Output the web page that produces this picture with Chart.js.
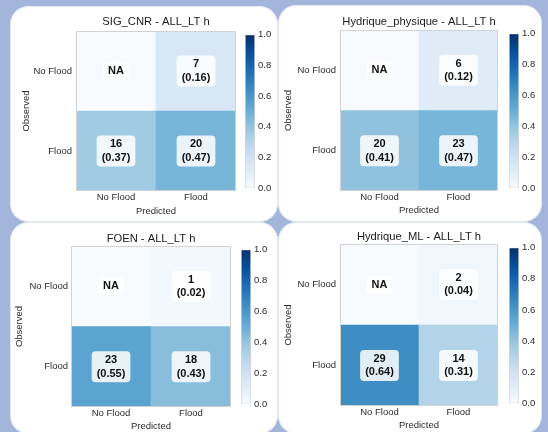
<!DOCTYPE html>
<html lang="en">
<head>
<meta charset="utf-8">
<title>Confusion matrices - ALL_LT h</title>
<script src="https://cdn.jsdelivr.net/npm/chart.js"></script>
<style>
  body {
    margin: 0;
    width: 548px;
    height: 432px;
    overflow: hidden;
    position: relative;
    background: #a3b5da;
    font-family: 'Liberation Sans', Arial, sans-serif;
  }
  .panel {
    position: absolute;
    background: #fff;
    border-radius: 18px;
    border: 1px solid #e3e9f3;
    box-sizing: border-box;
  }
  canvas { position: absolute; }
</style>
</head>
<body>
<div class="panel" style="left:10px;top:6px;width:268px;height:216px"></div>
<div class="panel" style="left:278px;top:5px;width:264px;height:217px"></div>
<div class="panel" style="left:10px;top:222px;width:268px;height:212px"></div>
<div class="panel" style="left:278px;top:222px;width:264px;height:212px"></div>

<script>
const categories = ['No Flood', 'Flood'];
const panelTitles = ['SIG_CNR - ALL_LT h', 'Hydrique_physique - ALL_LT h', 'FOEN - ALL_LT h', 'Hydrique_ML - ALL_LT h'];

// rows = observed [No Flood, Flood], columns = predicted [No Flood, Flood]; null = NA
const countsSigCnr = [[null, 7], [16, 20]];
const sharesSigCnr = [[null, 0.16], [0.37, 0.47]];
const countsHydPhys = [[null, 6], [20, 23]];
const sharesHydPhys = [[null, 0.12], [0.41, 0.47]];
const countsFoen = [[null, 1], [23, 18]];
const sharesFoen = [[null, 0.02], [0.55, 0.43]];
const countsHydMl = [[null, 2], [29, 14]];
const sharesHydMl = [[null, 0.04], [0.64, 0.31]];

const colorbarTicks = [0, 0.2, 0.4, 0.6, 0.8, 1.0];

// matplotlib "Blues"
const bluesStops = ['#f7fbff', '#deebf7', '#c6dbef', '#9ecae1', '#6baed6', '#4292c6', '#2171b5', '#08519c', '#08306b'];

function hexRgb(h) {
  return [1, 3, 5].map(i => parseInt(h.substr(i, 2), 16));
}

function blues(v) {
  const t = Math.max(0, Math.min(1, v)) * (bluesStops.length - 1);
  const i = Math.min(Math.floor(t), bluesStops.length - 2);
  const f = t - i;
  const a = hexRgb(bluesStops[i]), b = hexRgb(bluesStops[i + 1]);
  const c = a.map((x, k) => Math.round(x + (b[k] - x) * f));
  return `rgb(${c[0]},${c[1]},${c[2]})`;
}

Chart.defaults.font.family = "'Liberation Sans', Arial, sans-serif";
Chart.defaults.color = '#2b2b2b';

function makeCanvas(left, top, w, h) {
  const cv = document.createElement('canvas');
  cv.width = w;
  cv.height = h;
  cv.style.left = left + 'px';
  cv.style.top = top + 'px';
  cv.style.width = w + 'px';
  cv.style.height = h + 'px';
  document.body.appendChild(cv);
  return cv;
}

// frame round the matrix + count / share boxes in each cell
const cellLabels = {
  id: 'cellLabels',
  afterDatasetsDraw(chart) {
    const {ctx, chartArea: a} = chart;
    ctx.save();
    ctx.strokeStyle = '#d2d2d2';
    ctx.lineWidth = 1;
    ctx.strokeRect(a.left + 0.5, a.top + 0.5, a.width - 1, a.height - 1);
    ctx.font = "bold 11px 'Liberation Sans', Arial, sans-serif";
    ctx.textAlign = 'center';
    ctx.textBaseline = 'middle';
    chart.data.datasets.forEach((ds, i) => {
      chart.getDatasetMeta(i).data.forEach((bar, j) => {
        const {x, y, base} = bar.getProps(['x', 'y', 'base'], true);
        const cy = (y + base) / 2;
        const n = ds.counts[j];
        const lines = n == null ? ['NA'] : [String(n), '(' + ds.shares[j].toFixed(2) + ')'];
        const w = Math.max(...lines.map(t => ctx.measureText(t).width)) + 10;
        const h = lines.length * 13 + 5;
        ctx.fillStyle = 'rgba(255,255,255,0.85)';
        ctx.beginPath();
        ctx.roundRect(x - w / 2, cy - h / 2, w, h, 4);
        ctx.fill();
        ctx.fillStyle = '#111';
        lines.forEach((t, k) => ctx.fillText(t, x, cy + (k - (lines.length - 1) / 2) * 13.5));
      });
    });
    ctx.restore();
  }
};

function heatmap(p, title, counts, shares) {
  const cv = makeCanvas(p.left, p.top, p.w, p.h);
  // bottom row (observed Flood) first so it stacks at the bottom
  const datasets = [1, 0].map(r => ({
    label: categories[r],
    data: categories.map(() => 1),
    counts: counts[r],
    shares: shares[r],
    backgroundColor: shares[r].map(v => blues(v == null ? 0 : v)),
    borderWidth: 0,
    barPercentage: 1,
    categoryPercentage: 1
  }));
  new Chart(cv, {
    type: 'bar',
    data: { labels: categories, datasets },
    options: {
      responsive: false,
      animation: false,
      layout: { padding: { right: p.padR } },
      plugins: {
        legend: { display: false },
        tooltip: { enabled: false },
        title: {
          display: true,
          text: title,
          fullSize: false,
          color: '#1c1c1c',
          font: { size: 11.2, weight: 'normal' },
          padding: { top: p.tTop, bottom: p.tBot }
        }
      },
      scales: {
        x: {
          stacked: true,
          grid: { display: false, drawTicks: false },
          border: { display: false },
          ticks: { padding: 1, font: { size: 9.5 } },
          title: { display: true, text: 'Predicted', font: { size: 9.5 }, padding: { top: 0, bottom: p.xTitle } },
          afterFit: s => { s.height = p.xH; }
        },
        y: {
          stacked: true,
          min: 0,
          max: 2,
          grid: { display: false, drawTicks: false },
          border: { display: false },
          afterBuildTicks: s => { s.ticks = [{ value: 0.5 }, { value: 1.5 }]; },
          ticks: {
            padding: p.yTick,
            font: { size: 9.5 },
            callback: v => (v > 1 ? categories[0] : categories[1])
          },
          title: { display: true, text: 'Observed', font: { size: 9.5 }, padding: { top: p.yTitle, bottom: 0 } },
          afterFit: s => { s.width = p.yW; }
        }
      }
    },
    plugins: [cellLabels]
  });
}

function barGradient(chart) {
  const a = chart.chartArea;
  if (!a) return bluesStops[4];
  const g = chart.ctx.createLinearGradient(0, a.bottom, 0, a.top);
  bluesStops.forEach((c, i) => g.addColorStop(i / (bluesStops.length - 1), c));
  return g;
}

function colorbar(c) {
  const cv = makeCanvas(c.left, c.top, 34, c.h);
  new Chart(cv, {
    type: 'bar',
    data: {
      labels: [''],
      datasets: [{
        data: [[0, 1]],
        backgroundColor: ctx => barGradient(ctx.chart),
        borderColor: '#d6d6d6',
        borderWidth: 1,
        borderSkipped: false,
        barPercentage: 1,
        categoryPercentage: 1
      }]
    },
    options: {
      responsive: false,
      animation: false,
      layout: { padding: { top: 6, bottom: 6 } },
      plugins: { legend: { display: false }, tooltip: { enabled: false } },
      scales: {
        x: { display: false },
        y: {
          position: 'right',
          min: 0,
          max: 1,
          grid: { display: false, drawTicks: false },
          border: { display: false },
          afterBuildTicks: s => { s.ticks = colorbarTicks.map(v => ({ value: v })); },
          ticks: { padding: 3, font: { size: 9.5 }, callback: v => v.toFixed(1) },
          afterFit: s => { s.width = 24; }
        }
      }
    }
  });
}

heatmap({ left: 10, top: 6, w: 230, h: 216, padR: 4, tTop: 9, tBot: 2.6, yW: 66, yTick: 4, yTitle: 11, xH: 31, xTitle: 5 },
  panelTitles[0], countsSigCnr, sharesSigCnr);
colorbar({ left: 245, top: 26, h: 171 });

heatmap({ left: 278, top: 6, w: 224, h: 216, padR: 4, tTop: 9, tBot: 1.6, yW: 62, yTick: 4, yTitle: 5, xH: 31, xTitle: 6 },
  panelTitles[1], countsHydPhys, sharesHydPhys);
colorbar({ left: 509, top: 25, h: 172 });

heatmap({ left: 10, top: 222, w: 226, h: 210, padR: 5, tTop: 10, tBot: 0.6, yW: 61, yTick: 3, yTitle: 4, xH: 25, xTitle: 0 },
  panelTitles[2], countsFoen, sharesFoen);
colorbar({ left: 241, top: 241, h: 172 });

heatmap({ left: 278, top: 222, w: 224, h: 210, padR: 4, tTop: 8.6, tBot: 0, yW: 62, yTick: 4, yTitle: 5, xH: 26, xTitle: 1 },
  panelTitles[3], countsHydMl, sharesHydMl);
colorbar({ left: 509, top: 239, h: 173 });
</script>
</body>
</html>
